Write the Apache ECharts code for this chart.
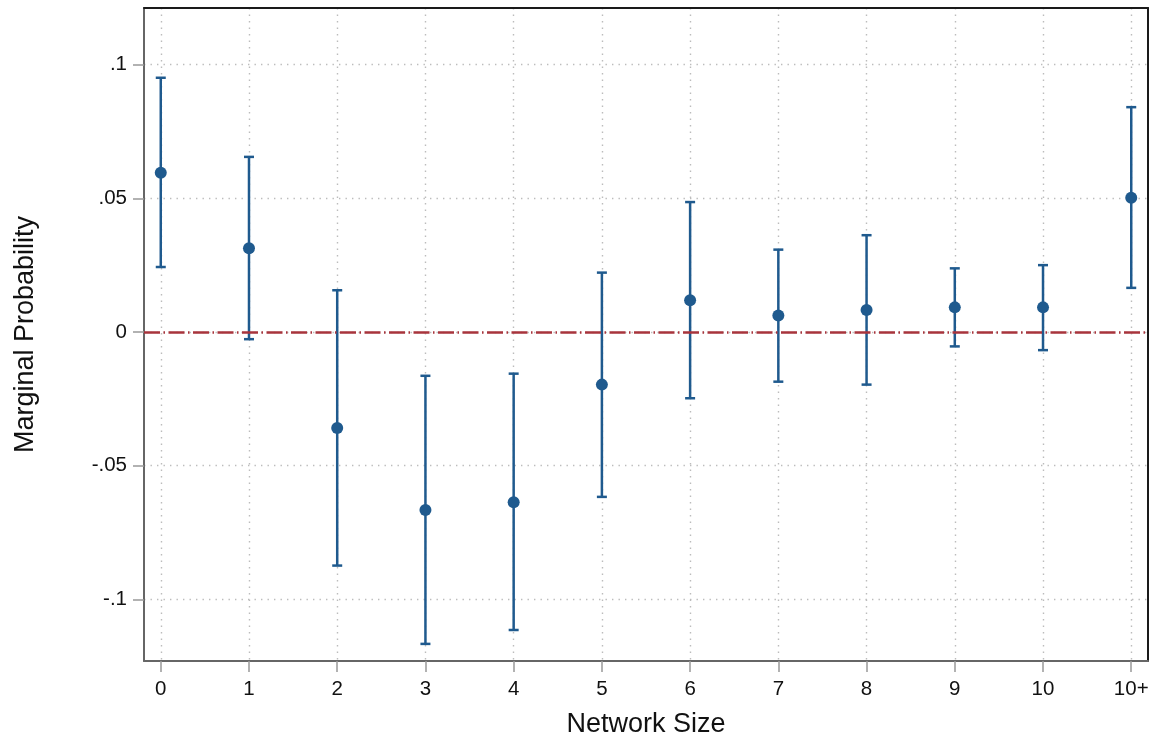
<!DOCTYPE html>
<html><head><meta charset="utf-8">
<script src="https://cdn.jsdelivr.net/npm/echarts@6/dist/echarts.min.js"></script>
<style>html,body{margin:0;padding:0;background:#fff}#c{width:1160px;height:742px}</style>
</head><body><div id="c"></div>
<script>
const categories = ['0','1','2','3','4','5','6','7','8','9','10','10+'];
const estimates = [0.0596,0.0313,-0.0359,-0.0666,-0.0637,-0.0197,0.0119,0.0062,0.0082,0.0092,0.0092,0.0502];
const upper = [0.0951,0.0655,0.0156,-0.0164,-0.0156,0.0222,0.0486,0.0308,0.0362,0.0238,0.0250,0.0841];
const lower = [0.0243,-0.0027,-0.0874,-0.1167,-0.1115,-0.0617,-0.0248,-0.0186,-0.0197,-0.0054,-0.0068,0.0165];
const yTicks = [-0.1,-0.05,0,0.05,0.1];
const yTickLabels = ['-.1','-.05','0','.05','.1'];

const xIdx = categories.map((c,i)=>i);
const FONT = '"Liberation Sans", Arial, Helvetica, sans-serif';
const BLUE = '#1f5a8e';
const RED = '#a8343c';
const GRIDLINE = {show:true, lineStyle:{color:'#bcbcbc', width:1.4, type:[1.4,5.1]}};
const XMIN = -0.19, XMAX = 11.19, YMIN = -0.1231, YMAX = 0.1212;

const chart = echarts.init(document.getElementById('c'), null, {renderer:'canvas'});
chart.setOption({
  animation:false,
  backgroundColor:'#fff',
  textStyle:{fontFamily:FONT},
  grid:{left:144, right:12, top:8, bottom:81, containLabel:false, outerBoundsMode:'none'},
  xAxis:[{
    type:'value', min:XMIN, max:XMAX, position:'bottom',
    axisLine:{show:true, onZero:false, lineStyle:{color:'#666', width:2}},
    axisTick:{show:true, length:11, customValues:xIdx, lineStyle:{color:'#999', width:1.5}},
    axisLabel:{customValues:xIdx, formatter:v=>categories[Math.round(v)], fontSize:20.5, color:'#111', margin:18, fontFamily:FONT},
    splitLine:GRIDLINE,
    name:'Network Size', nameLocation:'middle', nameGap:50,
    nameTextStyle:{fontSize:27, color:'#111', fontFamily:FONT}
  },{
    type:'value', min:XMIN, max:XMAX, position:'top',
    axisLine:{show:true, onZero:false, lineStyle:{color:'#1a1a1a', width:2}},
    axisTick:{show:false}, axisLabel:{show:false}, splitLine:{show:false}
  }],
  yAxis:[{
    type:'value', min:YMIN, max:YMAX, position:'left',
    axisLine:{show:true, onZero:false, lineStyle:{color:'#666', width:2}},
    axisTick:{show:true, length:11, customValues:yTicks, lineStyle:{color:'#999', width:1.5}},
    axisLabel:{customValues:yTicks, formatter:v=>{
      const i = yTicks.findIndex(t=>Math.abs(t-v)<1e-9); return i>=0?yTickLabels[i]:'';
    }, fontSize:20.5, color:'#111', margin:17, padding:[5,0,0,0], fontFamily:FONT},
    splitLine:GRIDLINE,
    name:'Marginal Probability', nameLocation:'middle', nameGap:105,
    nameTextStyle:{fontSize:27, color:'#111', fontFamily:FONT}
  },{
    type:'value', min:YMIN, max:YMAX, position:'right',
    axisLine:{show:true, onZero:false, lineStyle:{color:'#1a1a1a', width:2}},
    axisTick:{show:false}, axisLabel:{show:false}, splitLine:{show:false}
  }],
  series:[{
    type:'line', data:[], z:1, silent:true,
    markLine:{silent:true, symbol:'none', label:{show:false},
      lineStyle:{color:RED, width:2.5, type:[16,3.5,1.5,3.5]},
      data:[{yAxis:0}]}
  },{
    type:'custom', z:2, silent:true,
    data:xIdx.map(i=>[i, lower[i], upper[i]]),
    encode:{x:0, y:[1,2]},
    renderItem:(params, api)=>{
      const x = api.value(0);
      const lo = api.coord([x, api.value(1)]);
      const hi = api.coord([x, api.value(2)]);
      const hw = 5;
      const style = {stroke:BLUE, lineWidth:2.5, fill:null};
      return {type:'group', children:[
        {type:'line', shape:{x1:lo[0],y1:lo[1],x2:hi[0],y2:hi[1]}, style},
        {type:'line', shape:{x1:lo[0]-hw,y1:lo[1],x2:lo[0]+hw,y2:lo[1]}, style},
        {type:'line', shape:{x1:hi[0]-hw,y1:hi[1],x2:hi[0]+hw,y2:hi[1]}, style}
      ]};
    }
  },{
    type:'scatter', z:3, symbol:'circle', symbolSize:12,
    itemStyle:{color:BLUE, opacity:1},
    data:xIdx.map(i=>[i, estimates[i]])
  }]
});
</script>
</body></html>
